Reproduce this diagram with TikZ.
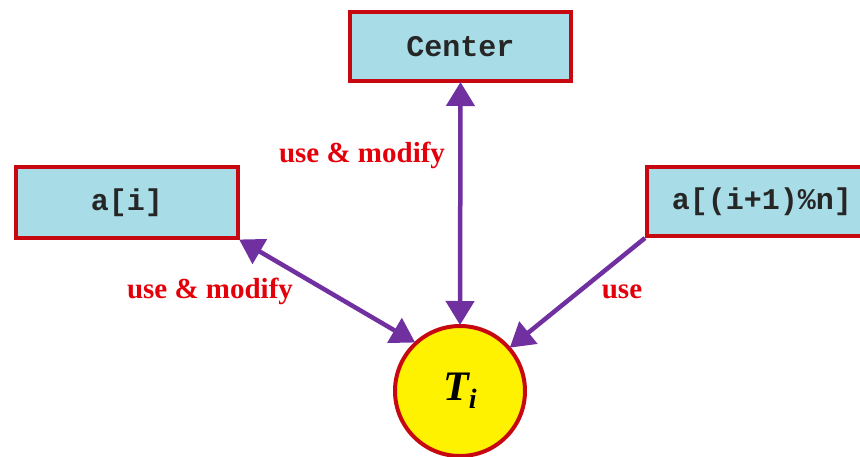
\documentclass[tikz,border=0pt]{standalone}
\usepackage{fontspec}
\setmainfont{Liberation Serif}
\setmonofont{Liberation Mono}
\usetikzlibrary{arrows.meta}
\definecolor{boxfill}{RGB}{168,220,230}
\definecolor{boxline}{RGB}{200,8,16}
\definecolor{arrowc}{RGB}{112,48,160}
\definecolor{labelc}{RGB}{228,0,10}
\tikzset{
  varbox/.style={draw=boxline, line width=4pt, fill=boxfill, inner sep=0pt,
    font=\ttfamily\bfseries\fontsize{30}{34}\selectfont, text=black!85},
  thread/.style={circle, draw=boxline, line width=4pt, fill=yellow, inner sep=0pt,
    minimum size=130pt, font=\bfseries\itshape\fontsize{42}{48}\selectfont},
  tip/.style={Triangle[length=24pt,width=28pt]},
  link/.style={draw=arrowc, line width=4.5pt,
    arrows={-{Triangle[length=24pt,width=28pt]}}, shorten >=-1pt},
  twoway/.style={link, arrows={{Triangle[length=24pt,width=28pt]}-{Triangle[length=24pt,width=28pt]}}, shorten <=-1pt},
  lbl/.style={text=labelc, font=\bfseries\fontsize{29}{34}\selectfont, inner sep=0pt}
}
\begin{document}
\begin{tikzpicture}[x=1pt,y=-1pt]
  \useasboundingbox (0,0) rectangle (860,456);
  \clip (0,0) rectangle (860,456);
  \fill[white] (0,0) rectangle (860,456);

  % shared variables
  \node[varbox, minimum width=221pt, minimum height=69pt] (center) at (460.5,46.5) {Center};
  \node[varbox, minimum width=222pt, minimum height=71pt] (ai) at (127,202.5) {a[i]};
  \node[varbox, minimum width=230pt, minimum height=69pt] (anext) at (762,201.5) {a[(i+1)\%n]};

  % the thread
  \node[thread] (t) at (460,391) {T\raisebox{-0.4ex}{\fontsize{28}{32}\selectfont i}};

  % accesses
  \draw[twoway] (center.south) -- (t.north);
  \draw[twoway] (ai.south east) -- (t.133);
  \draw[link] (anext.south west) -- (t.41);

  % access labels
  \node[lbl] (l1) at (362,155) {use \& modify};
  \node[lbl] (l2) at (210,291) {use \& modify};
  \node[lbl] (l3) at (622,292) {use};
\end{tikzpicture}
\end{document}
